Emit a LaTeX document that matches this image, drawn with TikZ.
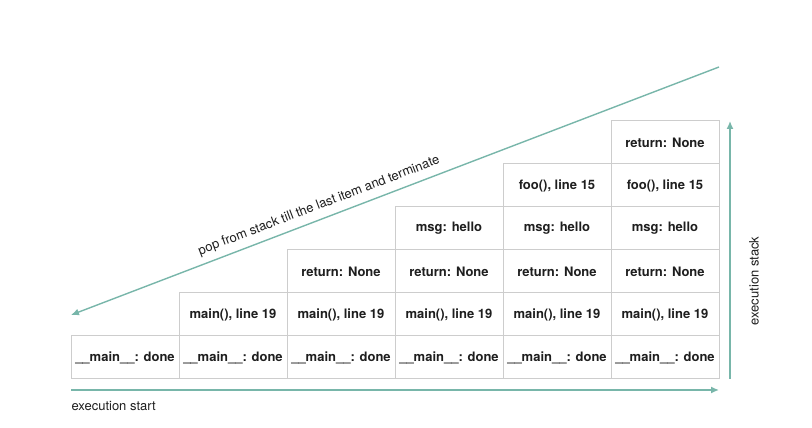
\documentclass[tikz,border=0pt]{standalone}
\usepackage{fontspec}
\setmainfont{TeX Gyre Heros}
\usetikzlibrary{arrows.meta,positioning,calc}
\definecolor{mygray}{RGB}{205,205,205}
\definecolor{myteal}{RGB}{120,182,170}
\definecolor{mytext}{RGB}{30,30,30}

\begin{document}
\begin{tikzpicture}[x=1pt, y=1pt, font=\fontsize{13}{15}\selectfont,
  cell/.style={draw=mygray, line width=1pt, minimum width=108pt, minimum height=43pt,
               outer sep=0pt, inner sep=0pt, text=mytext,
               font=\fontsize{13}{15}\selectfont\bfseries},
  flow/.style={draw=myteal, line width=1.4pt, -{Latex[length=8pt,width=7pt]}}]
  \useasboundingbox (0,0) rectangle (812,428);
  % bottom row
  \node[cell, anchor=south west](m0) at (71,49){\_\_main\_\_: done};
  \node[cell, right=0 of m0](m1){\_\_main\_\_: done};
  \node[cell, right=0 of m1](m2){\_\_main\_\_: done};
  \node[cell, right=0 of m2](m3){\_\_main\_\_: done};
  \node[cell, right=0 of m3](m4){\_\_main\_\_: done};
  \node[cell, right=0 of m4](m5){\_\_main\_\_: done};
  % frames pushed on top
  \node[cell, above=0 of m1](c1){main(), line 19};
  \node[cell, above=0 of m2](c2){main(), line 19};
  \node[cell, above=0 of m3](c3){main(), line 19};
  \node[cell, above=0 of m4](c4){main(), line 19};
  \node[cell, above=0 of m5](c5){main(), line 19};
  \node[cell, above=0 of c2](r2){return: None};
  \node[cell, above=0 of c3](r3){return: None};
  \node[cell, above=0 of c4](r4){return: None};
  \node[cell, above=0 of c5](r5){return: None};
  \node[cell, above=0 of r3](h3){msg: hello};
  \node[cell, above=0 of r4](h4){msg: hello};
  \node[cell, above=0 of r5](h5){msg: hello};
  \node[cell, above=0 of h4](f4){foo(), line 15};
  \node[cell, above=0 of h5](f5){foo(), line 15};
  \node[cell, above=0 of f5](t5){return: None};
  % time axis
  \coordinate (xs) at ($(m0.south west)+(0,-11)$);
  \coordinate (xe) at ($(m5.south east)+(0,-11)$);
  \draw[flow] (xs) -- (xe);
  \node[anchor=west, text=mytext](start) at ($(xs)+(-3,-16)$){execution start};
  % stack axis
  \coordinate (ys) at ($(m5.south east)+(11,0)$);
  \coordinate (ye) at ($(t5.north east)+(11,0)$);
  \draw[flow] (ys) -- (ye);
  \node[rotate=90, text=mytext](stack) at ($(m5.south east)+(35,98)$){execution stack};
  % unwinding
  \coordinate (ds) at ($(t5.north east)+(0,54)$);
  \coordinate (de) at ($(m0.north west)+(0,21)$);
  \draw[flow] (ds) -- node[pos=0.61, sloped, above=3pt, text=mytext](pop)
    {pop from stack till the last item and terminate} (de);
\end{tikzpicture}
\end{document}
